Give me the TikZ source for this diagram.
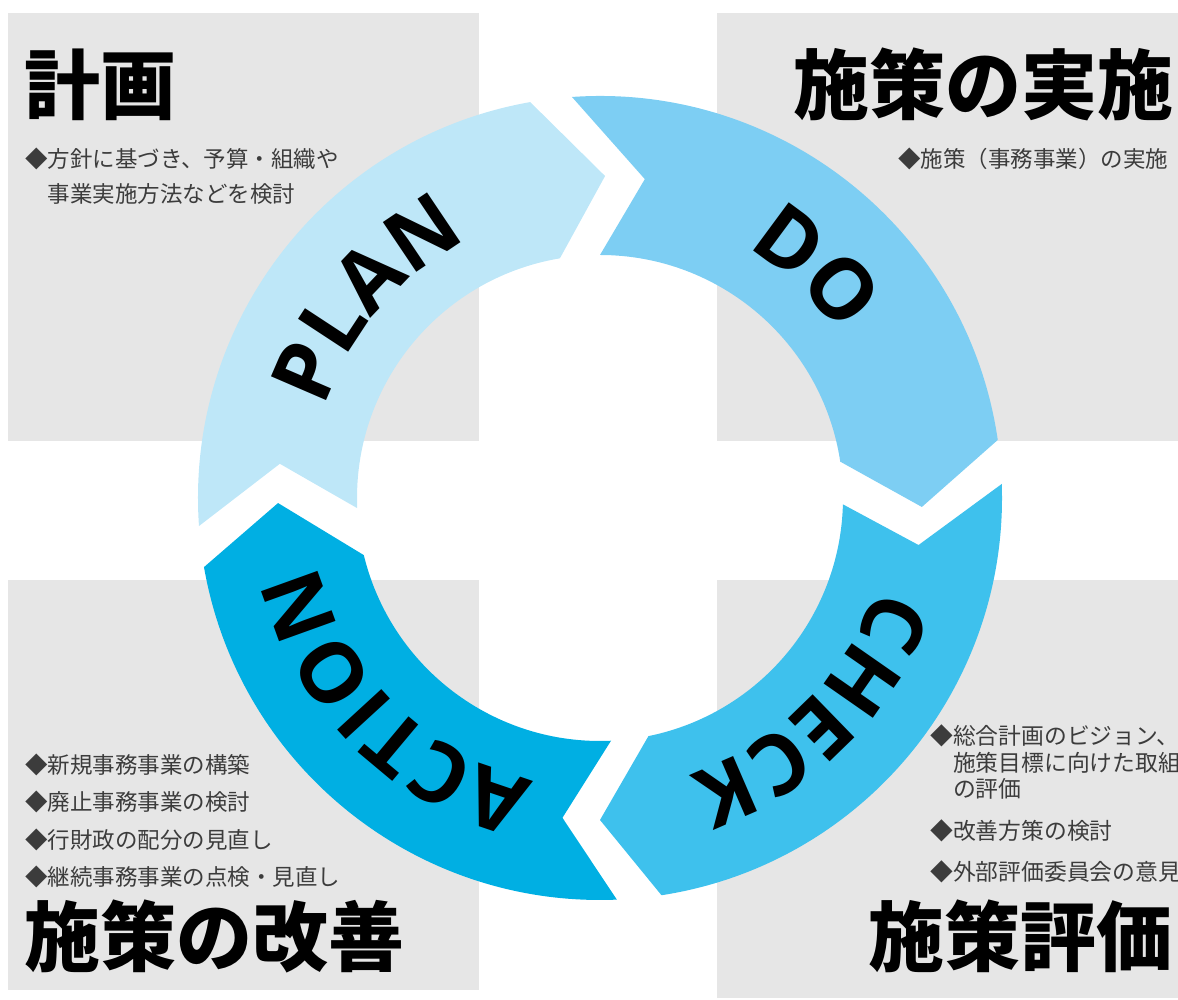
\documentclass[tikz,border=0pt]{standalone}
\usepackage{fontspec}
\newfontfamily\jpfont{Noto Sans CJK JP}
\newfontfamily\ringfont{Open Sans}
\usetikzlibrary{decorations.text}

\definecolor{boxgray}{RGB}{230,230,230}
\definecolor{memogray}{RGB}{60,60,60}
\definecolor{plancol}{RGB}{190,231,248}
\definecolor{docol}{RGB}{125,206,243}
\definecolor{checkcol}{RGB}{62,193,237}
\definecolor{actioncol}{RGB}{0,175,227}

\begin{document}
\begin{tikzpicture}[x=1pt,y=1pt,
  title/.style={inner sep=0pt,anchor=base west,font=\jpfont\bfseries\fontsize{76}{76}\selectfont},
  memo/.style={inner sep=0pt,anchor=base west,align=left,text=memogray,font=\jpfont\fontsize{22.5}{35}\selectfont},
  ringword/.style={decorate,decoration={text along path,text align=center,text={|\ringfont\bfseries\fontsize{84}{84}\selectfont|#1}}}]
\useasboundingbox (0,0) rectangle (1178,1000);
\clip (0,0) rectangle (1178,1000);

% gray boxes
\fill[boxgray] (8,559) rectangle (479,987);
\fill[boxgray] (717,559) rectangle (1190,987);
\fill[boxgray] (8,10) rectangle (479,420);
\fill[boxgray] (717,2) rectangle (1190,420);

% ring of arrows
\begin{scope}[shift={(600,502)}]
\fill[plancol] (184:402) arc[start angle=184,end angle=100,radius=402] -- (89.1:322)
  -- (99.5:243) arc[start angle=99.5,end angle=182.4,radius=243] -- (173.9:322) -- cycle;
\fill[docol] (94:402) arc[start angle=94,end angle=8.3,radius=402] -- (-1.6:322)
  -- (8.6:243) arc[start angle=8.6,end angle=90,radius=243] -- (82:322) -- cycle;
\fill[checkcol] (2:402) arc[start angle=2,end angle=-81.2,radius=402] -- (-90:322)
  -- (-78.5:243) arc[start angle=-78.5,end angle=-1.5,radius=243] -- (-8.4:322) -- cycle;
\fill[actioncol] (-87.6:402) arc[start angle=-87.6,end angle=-170.1,radius=402] -- (-179.1:322)
  -- (-166.4:243) arc[start angle=-166.4,end angle=-87.4,radius=243] -- (-96.7:322) -- cycle;

\path[ringword=PLAN] (180:290) arc[start angle=180,end angle=99,radius=290];
\path[ringword=DO] (87:290) arc[start angle=87,end angle=7,radius=290];
\path[ringword=CHECK] (-5:290) arc[start angle=-5,end angle=-85,radius=290];
\path[ringword=ACTION] (265:290) arc[start angle=265,end angle=185,radius=290];
\end{scope}

% plan
\node[title] (plantitle) at (24,886) {計画};
\node[memo] (planmemo) at (25,797) {◆方針に基づき、予算・組織や\\\phantom{◆}事業実施方法などを検討};

% do
\node[title] (dotitle) at (793,886) {施策の実施};
\node[memo] (domemo) at (898,832) {◆施策（事務事業）の実施};

% check
\node[memo,font=\jpfont\fontsize{22.8}{26.5}\selectfont] (checkmemo) at (930,119)
  {◆総合計画のビジョン、\\\phantom{◆}施策目標に向けた取組\\\phantom{◆}の評価\\[15pt]◆改善方策の検討\\[15pt]◆外部評価委員会の意見};
\node[title] (checktitle) at (868,34) {施策評価};

% action
\node[memo,font=\jpfont\fontsize{22.5}{37.5}\selectfont] (actionmemo) at (25,114)
  {◆新規事務事業の構築\\◆廃止事務事業の検討\\◆行財政の配分の見直し\\◆継続事務事業の点検・見直し};
\node[title] (actiontitle) at (24,34) {施策の改善};
\end{tikzpicture}
\end{document}
